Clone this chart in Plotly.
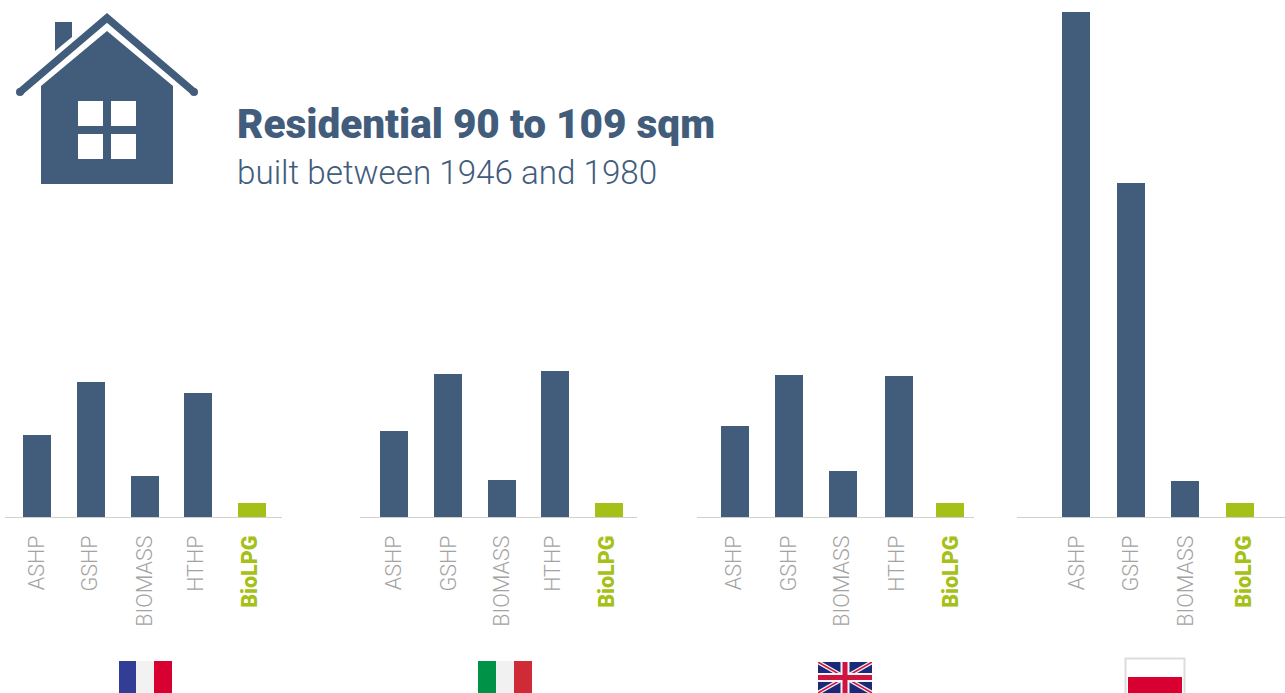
import plotly.graph_objects as go

WIDTH, HEIGHT = 1285, 693
BLUE = "#425c7c"
GREEN = "#a5c017"
GREY = "#a3a3a3"
FONT = "Roboto"

# Bar values per country
categories_four = ["ASHP", "GSHP", "BIOMASS", "HTHP", "BioLPG"]
categories_poland = ["ASHP", "GSHP", "BIOMASS", "BioLPG"]
france_values = [82, 135, 41, 124, 14]
italy_values = [86, 143, 37, 146, 14]
uk_values = [91, 142, 46, 141, 14]
poland_values = [505, 334, 36, 14]

Y_MAX = 505
BASELINE_PX = 517
TOP_PX = 12

# name, categories, values, axis left/right edge, first bar centre, bar spacing,
# slot nudges, horizontal centre of each rotated label
panels = [
    ("France", categories_four, france_values, 5, 282, 37, 53.75, {},
     [37, 90.5, 145.5, 196, 250]),
    ("Italy", categories_four, italy_values, 360, 637, 394, 53.75, {},
     [394, 449, 502, 553, 607.5]),
    ("UK", categories_four, uk_values, 697, 974, 735, 53.75, {3: 0.05},
     [734, 789, 842.5, 897, 951]),
    ("Poland", categories_poland, poland_values, 1017, 1285, 1076, 54.5, {},
     [1077, 1131, 1186, 1244]),
]


def fx(px):
    return px / WIDTH


def fy(px):
    return 1 - px / HEIGHT


def poly(points, fill, line_color=None, line_width=0, closed=True):
    path = "M" + " L".join(f"{fx(x):.5f},{fy(y):.5f}" for x, y in points)
    if closed:
        path += " Z"
    return dict(type="path", xref="paper", yref="paper", path=path, fillcolor=fill,
                line=dict(color=line_color or fill, width=line_width))


def rect(x0, y0, x1, y1, fill):
    return dict(type="rect", xref="paper", yref="paper", x0=fx(x0), x1=fx(x1),
                y0=fy(y0), y1=fy(y1), fillcolor=fill, line=dict(width=0))


def dot(cx, cy, r, fill):
    return dict(type="circle", xref="paper", yref="paper", x0=fx(cx - r), x1=fx(cx + r),
                y0=fy(cy + r), y1=fy(cy - r), fillcolor=fill, line=dict(width=0))


def tick_label(name):
    if name == "BioLPG":
        return f'<span style="color:{GREEN};font-weight:900">{name}</span>'
    return name


fig = go.Figure()
layout_axes = {}
for i, (name, cats, vals, left, right, first, step, nudges, label_px) in enumerate(panels, start=1):
    suffix = "" if i == 1 else str(i)
    slots = [k + nudges.get(k, 0) for k in range(len(cats))]
    fig.add_trace(go.Bar(
        x=slots, y=vals, name=name, width=28 / step, hovertext=cats,
        marker=dict(color=[GREEN if c == "BioLPG" else BLUE for c in cats], line=dict(width=0)),
        xaxis=f"x{suffix}", yaxis=f"y{suffix}", showlegend=False,
    ))
    layout_axes[f"xaxis{suffix}"] = dict(
        domain=[fx(left), fx(right)], anchor=f"y{suffix}", type="linear",
        range=[(left - first) / step, (right - first) / step],
        tickmode="array", tickvals=[(p - first) / step for p in label_px],
        ticktext=[tick_label(c) for c in cats],
        tickangle=-90, ticks="", ticklen=0, ticklabelstandoff=9,
        showgrid=False, zeroline=False,
        showline=True, linecolor="#d0d0d0", linewidth=1,
        tickfont=dict(family=FONT, size=21.5, weight=300, color=GREY),
    )
    layout_axes[f"yaxis{suffix}"] = dict(
        domain=[fy(BASELINE_PX), fy(TOP_PX)], anchor=f"x{suffix}", range=[0, Y_MAX],
        visible=False, showgrid=False, zeroline=False,
    )

# House icon
shapes = [
    poly([(55, 22), (72, 22), (72, 37), (55, 51)], BLUE),
    poly([(41, 86), (107, 31), (173, 86), (173, 184), (41, 184)], BLUE),
    poly([(20, 92), (107, 18), (194, 92)], "rgba(0,0,0,0)", BLUE, 7.5, closed=False),
    dot(20, 92, 4, BLUE),
    dot(194, 92, 4, BLUE),
]
for wx, wy in [(78, 101), (111, 101), (78, 134), (111, 134)]:
    shapes.append(rect(wx, wy, wx + 25, wy + 25, "#ffffff"))

# Flags along the bottom edge
shapes += [
    rect(119, 661, 136, 693, "#323e95"),
    rect(136, 661, 154, 693, "#f2f2f2"),
    rect(154, 661, 172, 693, "#d80031"),
    rect(478, 661, 496, 693, "#009246"),
    rect(496, 661, 514, 693, "#f1f1f1"),
    rect(514, 661, 532, 693, "#ce2b37"),
]
ux0, ux1, uy0, uy1 = 818, 872, 662, 693
umx, umy = 845, 677.5
shapes.append(rect(ux0, uy0, ux1, uy1, "#1b2a78"))
white_d = 4
red_d = 1.5
for (ax, ay, bx, by) in [(ux0, uy0, ux1, uy1), (ux0, uy1, ux1, uy0)]:
    sign = 1 if ay < by else -1
    shapes.append(poly([(ax, ay), (ax + white_d, ay), (bx, by - sign * white_d * 0.6), (bx, by),
                        (bx - white_d, by), (ax, ay + sign * white_d * 0.6)], "#f4f4f8"))
    shapes.append(poly([(ax, ay), (ax + red_d, ay), (bx, by - sign * red_d * 0.6), (bx, by),
                        (bx - red_d, by), (ax, ay + sign * red_d * 0.6)], "#cf1440"))
shapes += [
    rect(umx - 4.5, uy0, umx + 4.5, uy1, "#f4f4f8"),
    rect(ux0, umy - 4.5, ux1, umy + 4.5, "#f4f4f8"),
    rect(umx - 2.5, uy0, umx + 2.5, uy1, "#cf1440"),
    rect(ux0, umy - 2.5, ux1, umy + 2.5, "#cf1440"),
]
shapes += [
    dict(type="rect", xref="paper", yref="paper", x0=fx(1125.5), x1=fx(1184.5), y0=fy(698), y1=fy(658.5),
         fillcolor="#ffffff", line=dict(color="#dcdcdc", width=2)),
    rect(1128, 677, 1182, 693, "#d70030"),
]

fig.update_layout(
    width=WIDTH, height=HEIGHT, margin=dict(l=0, r=0, t=0, b=0, autoexpand=False),
    paper_bgcolor="#ffffff", plot_bgcolor="#ffffff", bargap=0, showlegend=False,
    shapes=shapes,
    annotations=[
        dict(text="Residential 90 to 109 sqm", xref="paper", yref="paper",
             x=fx(235), y=fy(124), xanchor="left", yanchor="middle", showarrow=False,
             font=dict(family="Roboto", size=40.5, weight=900, color=BLUE)),
        dict(text="built between 1946 and 1980", xref="paper", yref="paper",
             x=fx(235), y=fy(172), xanchor="left", yanchor="middle", showarrow=False,
             font=dict(family="Roboto", size=33.2, weight=300, color=BLUE)),
    ],
    **layout_axes,
)

fig.write_html("out.html", config=dict(displayModeBar=False))
